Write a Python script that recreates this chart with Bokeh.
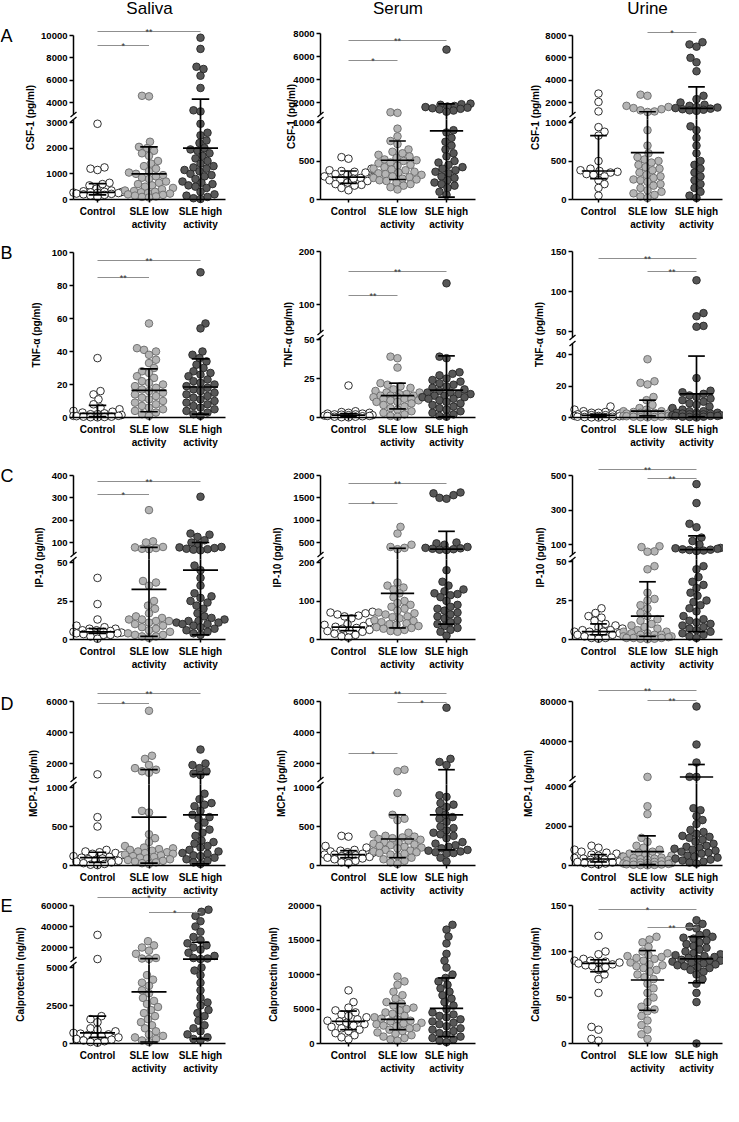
import math
from bokeh.plotting import figure
from bokeh.models import Range1d, LinearAxis, FixedTicker, NumeralTickFormatter, ColumnDataSource
from bokeh.core.properties import value
from bokeh.embed import file_html
from bokeh.resources import INLINE

# ---------------- data ----------------
groups = ["Control", "SLE low\nactivity", "SLE high\nactivity"]
fluids = ["Saliva", "Serum", "Urine"]
panel_letters = ["A", "B", "C", "D", "E"]
y_titles = ["CSF-1 (pg/ml)", "TNF-\u03b1 (pg/ml)", "IP-10 (pg/ml)", "MCP-1 (pg/ml)", "Calprotectin (ng/ml)"]

# --- CSF-1 ---
saliva_csf1_control = [2950, 1250, 1200, 1150, 650, 600, 550, 420, 350, 320, 300, 290, 280, 270, 260, 250, 230, 220, 200, 180, 150, 100]
saliva_csf1_low = [4600, 4550, 2250, 2050, 2000, 1900, 1800, 1700, 1500, 1400, 1300, 1200, 1100, 1050, 1000, 950, 900, 850, 800, 700, 650, 600, 550, 500, 450, 400, 350, 330, 300, 280, 250, 230, 200, 180, 150, 120, 100, 80]
saliva_csf1_high = [9800, 8800, 7200, 7000, 6400, 5300, 3300, 3200, 2950, 2600, 2500, 2300, 2200, 2000, 1950, 1900, 1800, 1700, 1600, 1500, 1400, 1300, 1250, 1200, 1150, 1100, 1000, 950, 900, 800, 700, 650, 600, 550, 500, 450, 300, 200, 150, 100, 50, 20]
saliva_csf1_mid = [280, 1000, 2000]
saliva_csf1_lo = [180, 0, 0]
saliva_csf1_hi = [620, 2050, 4300]
saliva_csf1_ticks = [0, 1000, 2000, 3000, 4000, 6000, 8000, 10000]
saliva_csf1_sig = [(0, 2, "**"), (0, 1, "*")]

serum_csf1_control = [550, 530, 400, 380, 370, 360, 350, 330, 320, 300, 290, 280, 270, 260, 250, 240, 220, 200, 190, 180, 150, 120]
serum_csf1_low = [1150, 1100, 920, 820, 760, 720, 650, 620, 600, 580, 560, 540, 520, 510, 500, 480, 470, 450, 440, 420, 400, 390, 380, 360, 350, 340, 330, 320, 300, 290, 280, 270, 260, 250, 240, 220, 200, 180, 160, 130]
serum_csf1_high = [6600, 1900, 1850, 1800, 1700, 1650, 1600, 1550, 1500, 1450, 1400, 1300, 1200, 900, 870, 800, 750, 700, 650, 600, 560, 500, 480, 450, 420, 400, 380, 360, 340, 300, 280, 250, 220, 200, 180, 150, 100, 60]
serum_csf1_mid = [290, 510, 890]
serum_csf1_lo = [210, 260, 30]
serum_csf1_hi = [370, 760, 1880]
serum_csf1_ticks = [0, 500, 1000, 2000, 4000, 6000, 8000]
serum_csf1_sig = [(0, 2, "**"), (0, 1, "*")]

urine_csf1_control = [2800, 2050, 1200, 940, 880, 830, 500, 400, 380, 370, 360, 350, 330, 320, 300, 250, 200, 150, 50]
urine_csf1_low = [2700, 2600, 1700, 1600, 1500, 1400, 1300, 1200, 1150, 900, 700, 600, 550, 520, 500, 480, 450, 420, 400, 380, 350, 320, 300, 280, 260, 250, 230, 200, 180, 150, 120, 100, 80, 60, 40, 20]
urine_csf1_high = [7400, 7200, 7000, 6000, 5600, 4800, 2600, 2300, 2000, 1800, 1700, 1600, 1550, 1500, 1450, 1400, 1350, 1300, 1250, 950, 900, 800, 700, 600, 500, 450, 400, 350, 300, 250, 200, 150, 100, 50, 20]
urine_csf1_mid = [370, 610, 1480]
urine_csf1_lo = [270, 0, 0]
urine_csf1_hi = [830, 1170, 3400]
urine_csf1_ticks = [0, 500, 1000, 2000, 4000, 6000, 8000]
urine_csf1_sig = [(1, 2, "*")]

# --- TNF-alpha ---
saliva_tnf_control = [36, 16, 14, 11, 8, 6, 5, 4, 3.5, 3, 2.5, 2, 2, 1.5, 1, 1, 0.8, 0.5, 0.5, 0.3, 0.2, 0.1]
saliva_tnf_low = [57, 42, 41, 40, 38, 35, 33, 30, 28, 27, 25, 24, 22, 21, 20, 19, 18, 17, 16, 15, 14, 13, 12, 11, 10, 9, 8, 7, 6, 5, 4, 3, 2, 1]
saliva_tnf_high = [88, 57, 54, 40, 38, 36, 34, 32, 30, 28, 27, 26, 25, 23, 22, 21, 20, 19, 18, 17, 16, 15, 14, 13, 12, 11, 10, 9, 8, 7, 6, 5, 4, 3, 2, 1]
saliva_tnf_mid = [2.5, 16.5, 18.5]
saliva_tnf_lo = [0.5, 3.5, 2]
saliva_tnf_hi = [7.3, 29.5, 35.5]
saliva_tnf_ticks = [0, 20, 40, 60, 80, 100]
saliva_tnf_sig = [(0, 2, "**"), (0, 1, "**")]

serum_tnf_control = [20.5, 4, 3.5, 3, 3, 2.5, 2.5, 2, 2, 1.8, 1.5, 1.5, 1.2, 1, 1, 0.8, 0.5, 0.5, 0.2, 0.1]
serum_tnf_low = [39, 38, 32, 22, 21, 20, 19, 18, 17, 16, 16, 15, 15, 14, 14, 14, 13, 13, 13, 12, 12, 12, 11, 11, 10, 10, 9, 8, 7, 6, 5, 4, 3, 2, 1, 0.5]
serum_tnf_high = [140, 39, 38, 29, 28, 27, 25, 24, 23, 22, 21, 20, 19, 18, 17, 16, 16, 15, 15, 14, 14, 13, 13, 12, 12, 11, 10, 9, 8, 7, 6, 5, 4, 3, 2, 1, 0.5]
serum_tnf_mid = [1.5, 14, 17.5]
serum_tnf_lo = [0.8, 5.5, 0.5]
serum_tnf_hi = [2.5, 22, 39.5]
serum_tnf_ticks = [0, 25, 50, 100, 200]
serum_tnf_sig = [(0, 2, "**"), (0, 1, "**")]

urine_tnf_control = [7, 5, 4, 3.5, 3, 3, 2.5, 2, 2, 2, 1.5, 1.5, 1, 1, 1, 0.8, 0.5, 0.5, 0.3, 0.2, 0.1, 0]
urine_tnf_low = [37, 23, 22, 21, 13, 11, 8, 6, 5, 5, 4, 4, 3.5, 3, 3, 3, 2.5, 2.5, 2, 2, 2, 1.5, 1.5, 1, 1, 1, 0.8, 0.5, 0.5, 0.3, 0.2, 0.1]
urine_tnf_high = [114, 73, 69, 57, 56, 25, 17, 16, 15, 14, 13, 12, 11, 10, 9, 8, 7, 6, 5, 4, 4, 3, 3, 3, 2.5, 2.5, 2, 2, 2, 1.5, 1.5, 1, 1, 1, 0.5, 0.5, 0.3, 0]
urine_tnf_mid = [1.3, 4, 15]
urine_tnf_lo = [0.8, 1, 0.5]
urine_tnf_hi = [2, 11, 39]
urine_tnf_ticks = [0, 20, 40, 50, 100, 150]
urine_tnf_sig = [(0, 2, "**"), (1, 2, "**")]

# --- IP-10 ---
saliva_ip10_control = [40, 23, 13, 9, 8, 7, 7, 6, 6, 5.5, 5, 5, 5, 4.5, 4, 4, 4, 3.5, 3, 3, 2, 0.5]
saliva_ip10_low = [245, 105, 100, 80, 78, 75, 72, 70, 38, 37, 35, 25, 22, 20, 17, 15, 14, 13, 13, 12, 12, 11, 10, 9, 8, 7, 6, 5, 4, 3, 3, 2, 2, 1]
saliva_ip10_high = [305, 140, 135, 125, 110, 100, 90, 80, 78, 75, 72, 70, 68, 65, 48, 45, 40, 35, 30, 28, 27, 25, 24, 22, 20, 17, 15, 14, 13, 12, 12, 11, 11, 10, 10, 9, 8, 7, 6, 5, 4, 3]
saliva_ip10_mid = [5, 32.5, 45]
saliva_ip10_lo = [4, 2, 3]
saliva_ip10_hi = [7, 78, 100]
saliva_ip10_ticks = [0, 25, 50, 100, 200, 300, 400]
saliva_ip10_sig = [(0, 2, "**"), (0, 1, "*")]

serum_ip10_control = [72, 70, 68, 65, 62, 60, 55, 45, 40, 38, 35, 33, 30, 28, 25, 23, 22, 20, 15, 12, 8, 5]
serum_ip10_low = [850, 700, 450, 400, 380, 350, 148, 140, 135, 130, 120, 110, 100, 95, 90, 85, 80, 75, 70, 68, 65, 60, 58, 55, 50, 48, 45, 42, 40, 38, 35, 32, 30, 28, 25, 22, 20]
serum_ip10_high = [1620, 1600, 1560, 1500, 1480, 500, 480, 450, 400, 380, 370, 360, 350, 340, 330, 180, 150, 140, 130, 125, 120, 118, 115, 110, 100, 90, 85, 80, 75, 70, 65, 60, 55, 50, 45, 40, 35, 30, 25, 20, 10]
serum_ip10_mid = [32, 120, 350]
serum_ip10_lo = [23, 30, 40]
serum_ip10_hi = [62, 370, 750]
serum_ip10_ticks = [0, 100, 200, 500, 1000, 1500, 2000]
serum_ip10_sig = [(0, 2, "**"), (0, 1, "*")]

urine_ip10_control = [20, 17, 15, 14, 12, 10, 9, 8, 7, 6, 6, 5, 5, 5, 4, 4, 3, 3, 2, 1, 1, 0.5]
urine_ip10_low = [90, 85, 60, 58, 47, 45, 30, 26, 25, 22, 20, 17, 15, 13, 12, 10, 9, 8, 7, 6, 5, 5, 4, 4, 3, 3, 3, 2, 2, 2, 1.5, 1, 1, 1, 0.5, 0.5, 0.2]
urine_ip10_high = [450, 340, 220, 200, 140, 120, 100, 80, 78, 75, 72, 70, 68, 65, 62, 47, 45, 40, 37, 35, 33, 30, 28, 25, 24, 22, 20, 18, 15, 13, 12, 11, 10, 9, 8, 7, 6, 5, 4, 3, 2, 1]
urine_ip10_mid = [5, 15, 70]
urine_ip10_lo = [3, 2, 5]
urine_ip10_hi = [10, 37, 150]
urine_ip10_ticks = [0, 25, 50, 100, 300, 500]
urine_ip10_sig = [(0, 2, "**"), (1, 2, "**")]

# --- MCP-1 ---
saliva_mcp1_control = [1300, 620, 500, 200, 180, 170, 160, 150, 130, 120, 110, 100, 90, 80, 70, 60, 50, 40, 30, 20, 10, 5]
saliva_mcp1_low = [5400, 2500, 2300, 1900, 1700, 1600, 1500, 1400, 700, 680, 400, 350, 300, 250, 230, 220, 210, 200, 190, 180, 170, 160, 150, 140, 130, 120, 110, 100, 90, 80, 70, 60, 50, 40, 30, 20]
saliva_mcp1_high = [2900, 2000, 1900, 1700, 1500, 1350, 1250, 920, 850, 800, 780, 760, 700, 650, 620, 600, 550, 500, 460, 420, 380, 320, 300, 280, 250, 230, 200, 180, 160, 150, 130, 120, 100, 80, 60, 40, 20]
saliva_mcp1_mid = [100, 620, 650]
saliva_mcp1_lo = [40, 30, 20]
saliva_mcp1_hi = [170, 1600, 1300]
saliva_mcp1_ticks = [0, 500, 1000, 2000, 4000, 6000]
saliva_mcp1_sig = [(0, 2, "**"), (0, 1, "*")]

serum_mcp1_control = [380, 370, 250, 230, 200, 190, 180, 170, 160, 150, 140, 140, 130, 120, 120, 110, 100, 90, 80, 60, 40, 30]
serum_mcp1_low = [1600, 1500, 930, 650, 600, 580, 420, 400, 380, 370, 360, 350, 340, 330, 320, 300, 290, 280, 270, 260, 250, 240, 230, 220, 200, 190, 180, 170, 160, 150, 140, 120, 100, 80, 60, 40, 20]
serum_mcp1_high = [5600, 2300, 2100, 1900, 900, 880, 800, 780, 750, 700, 650, 620, 600, 560, 500, 480, 450, 420, 400, 380, 350, 300, 280, 260, 240, 220, 200, 190, 180, 170, 160, 150, 100, 50]
serum_mcp1_mid = [140, 340, 650]
serum_mcp1_lo = [100, 100, 200]
serum_mcp1_hi = [190, 650, 1600]
serum_mcp1_ticks = [0, 500, 1000, 2000, 4000, 6000]
serum_mcp1_sig = [(0, 2, "**"), (1, 2, "*"), (0, 1, "*")]

urine_mcp1_control = [1000, 900, 800, 700, 650, 600, 550, 500, 450, 400, 380, 350, 300, 280, 250, 200, 180, 150, 120, 100, 80, 50]
urine_mcp1_low = [4600, 3000, 2600, 1400, 1200, 1000, 900, 800, 700, 650, 600, 550, 500, 450, 400, 380, 350, 320, 300, 280, 250, 220, 200, 180, 150, 130, 120, 100, 80, 60, 50, 40, 30, 20, 10]
urine_mcp1_high = [75000, 37000, 19000, 4700, 4600, 2900, 2800, 2500, 2300, 2100, 1800, 1700, 1600, 1500, 1450, 1400, 1300, 1200, 1100, 1000, 950, 900, 850, 800, 750, 700, 650, 600, 500, 450, 400, 350, 300, 250, 200, 150, 100]
urine_mcp1_mid = [330, 700, 4500]
urine_mcp1_lo = [180, 50, 0]
urine_mcp1_hi = [550, 1500, 17000]
urine_mcp1_ticks = [0, 2000, 4000, 40000, 80000]
urine_mcp1_sig = [(0, 2, "**"), (1, 2, "**")]

# --- Calprotectin ---
saliva_calpro_control = [32000, 9000, 1800, 1600, 1400, 1000, 900, 800, 700, 650, 600, 550, 500, 450, 400, 300, 250, 200, 150, 100, 50]
saliva_calpro_low = [26000, 22000, 20000, 17000, 14000, 10000, 9500, 9000, 4500, 4200, 4000, 3800, 3500, 3300, 3000, 2800, 2600, 2400, 2200, 2000, 1800, 1600, 1400, 1200, 1000, 800, 600, 500, 400, 300, 200, 100]
saliva_calpro_high = [56000, 54000, 50000, 45000, 40000, 35000, 30000, 27000, 24000, 22000, 20000, 18000, 15000, 12000, 10000, 9500, 9000, 5000, 4800, 4500, 4000, 3500, 3000, 2700, 2500, 2200, 2000, 1800, 1500, 1200, 1000, 800, 600, 400, 300, 200]
saliva_calpro_mid = [700, 3400, 9000]
saliva_calpro_lo = [400, 100, 300]
saliva_calpro_hi = [1800, 9500, 25000]
saliva_calpro_ticks = [0, 2500, 5000, 20000, 40000, 60000]
saliva_calpro_sig = [(0, 2, "*"), (1, 2, "*")]

serum_calpro_control = [7700, 6000, 5200, 4800, 4500, 4200, 4000, 3800, 3500, 3300, 3200, 3000, 2800, 2600, 2400, 2200, 2000, 1800, 1500, 1200, 900, 600]
serum_calpro_low = [9700, 9000, 8500, 7500, 7000, 6500, 6000, 5800, 5500, 5200, 5000, 4800, 4500, 4300, 4000, 3800, 3600, 3500, 3300, 3200, 3000, 2900, 2800, 2600, 2500, 2300, 2200, 2000, 1800, 1600, 1400, 1200, 1000, 800, 600, 400]
serum_calpro_high = [17200, 16500, 15500, 14500, 13000, 12000, 11000, 10000, 9500, 9000, 8500, 8000, 7500, 7000, 6500, 6000, 5500, 5000, 4500, 4200, 4000, 3800, 3500, 3200, 3000, 2800, 2500, 2200, 2000, 1800, 1500, 1300, 1000, 800, 600, 400, 200]
serum_calpro_mid = [3200, 3500, 5100]
serum_calpro_lo = [2000, 2000, 1000]
serum_calpro_hi = [4700, 5800, 9500]
serum_calpro_ticks = [0, 5000, 10000, 15000, 20000]
serum_calpro_sig = []

urine_calpro_control = [117, 100, 97, 92, 90, 90, 89, 88, 88, 87, 86, 85, 84, 83, 80, 75, 70, 55, 18, 15, 5, 3]
urine_calpro_low = [116, 113, 110, 105, 100, 98, 96, 95, 94, 93, 92, 90, 88, 86, 85, 84, 82, 80, 78, 75, 72, 70, 65, 60, 55, 50, 45, 40, 37, 35, 30, 25, 20, 15, 10, 5]
urine_calpro_high = [134, 130, 127, 125, 120, 118, 116, 115, 114, 112, 110, 108, 106, 104, 102, 100, 98, 97, 96, 95, 94, 93, 92, 91, 90, 90, 89, 88, 87, 86, 85, 84, 83, 82, 80, 78, 75, 70, 65, 55, 45, 0]
urine_calpro_mid = [87, 69, 92]
urine_calpro_lo = [78, 36, 66]
urine_calpro_hi = [91, 101, 116]
urine_calpro_ticks = [0, 50, 100, 150]
urine_calpro_sig = [(0, 2, "*"), (1, 2, "**")]

tissues = ["saliva", "serum", "urine"]
markers = ["csf1", "tnf", "ip10", "mcp1", "calpro"]

# ---------------- layout (pixels) ----------------
W, H = 723, 1075
COLS = [dict(axis=73, c0=97, sp=51.5, right=225),
        dict(axis=320, c0=348, sp=49.0, right=475),
        dict(axis=572, c0=598, sp=49.0, right=722)]
ROW_Y0 = [199, 417, 639, 865, 1043]
TITLE_Y = 8
LETTER_Y = [35, 252, 475, 703, 905]
YLAB_OFF = [[43, 29, 37], [37, 32, 33], [34, 43, 32], [40, 39, 44], [53, 47, 37]]
SEG = {
    (0, 0): dict(lower=(3000, 77), upper=((4000, 97), (10000, 164)), ltop=80, ustart=85),
    (0, 1): dict(lower=(1000, 77), upper=((2000, 97), (8000, 166)), ltop=80, ustart=85),
    (0, 2): dict(lower=(1000, 77), upper=((2000, 97), (8000, 164)), ltop=80, ustart=85),
    (1, 0): dict(lower=(100, 165), upper=None),
    (1, 1): dict(lower=(50, 78), upper=((100, 113), (200, 166)), ltop=80, ustart=85),
    (1, 2): dict(lower=(40, 63), upper=((50, 86), (150, 166)), ltop=74, ustart=80),
    (2, 0): dict(lower=(50, 77), upper=((100, 97), (400, 164)), ltop=80, ustart=85),
    (2, 1): dict(lower=(200, 77), upper=((500, 97), (2000, 164)), ltop=80, ustart=85),
    (2, 2): dict(lower=(50, 78), upper=((100, 95), (500, 164)), ltop=80, ustart=85),
    (3, 0): dict(lower=(1000, 78), upper=((2000, 102), (6000, 164)), ltop=81, ustart=86),
    (3, 1): dict(lower=(1000, 78), upper=((2000, 102), (6000, 164)), ltop=81, ustart=86),
    (3, 2): dict(lower=(4000, 79), upper=((40000, 124), (80000, 164)), ltop=82, ustart=87),
    (4, 0): dict(lower=(5000, 76), upper=((20000, 96), (60000, 138)), ltop=79, ustart=84),
    (4, 1): dict(lower=(20000, 138), upper=None),
    (4, 2): dict(lower=(150, 138), upper=None),
}
SIG_H = {
    (0, 0): [168, 154], (0, 1): [159, 139], (0, 2): [167],
    (1, 0): [157, 140], (1, 1): [146, 122], (1, 2): [159, 146],
    (2, 0): [158, 145], (2, 1): [156, 136], (2, 2): [170, 161],
    (3, 0): [172, 162], (3, 1): [172, 163, 112], (3, 2): [175, 165],
    (4, 0): [146, 131], (4, 1): [], (4, 2): [134, 116],
}
FILL = ["#ffffff", "#b4b4b4", "#575757"]
EDGE = ["#1a1a1a", "#6a6a6a", "#262626"]
FONT = "Liberation Sans"
DOT = 7.6


def disp(v, seg):
    vl, dl = seg["lower"]
    k0 = dl / vl
    up = seg.get("upper")
    if up is None:
        return v * k0
    if v <= seg["ltop"] / k0:
        return v * k0
    (t1, d1), (t2, d2) = up
    return d1 + (v - t1) * (d2 - d1) / (t2 - t1)


def swarm(vals, seg, dia=7.0, maxoff=24):
    ds = [disp(v, seg) for v in vals]
    order = sorted(range(len(vals)), key=lambda i: ds[i])
    placed = []
    offs = [0.0] * len(vals)
    for n, i in enumerate(order):
        y = ds[i]
        sgn = 1 if n % 2 == 0 else -1
        cands = [0]
        for k in range(1, maxoff + 1):
            cands += [sgn * k, -sgn * k]
        best, bestc, bestpen = None, 0, 1e9
        for c in cands:
            pen = 0.0
            for (px, py) in placed:
                dd = math.hypot(px - c, py - y)
                if dd < dia:
                    pen += dia - dd
            if pen == 0:
                best = c
                break
            if pen < bestpen:
                bestpen, bestc = pen, c
        if best is None:
            best = bestc
        offs[i] = best
        placed.append((best, y))
    return offs


p = figure(width=W, height=H, x_range=Range1d(0, W), y_range=Range1d(H, 0),
           x_axis_type=None, y_axis_type=None, toolbar_location=None,
           output_backend="svg", outline_line_color=None)
p.min_border_left = 0
p.min_border_right = 0
p.min_border_top = 0
p.min_border_bottom = 0
p.background_fill_color = "white"
p.border_fill_color = "white"

xr = {}
for c, C in enumerate(COLS):
    xr[f"x{c}"] = Range1d(start=(0 - C["c0"]) / C["sp"], end=(W - C["c0"]) / C["sp"])
yr = {}


def style_axis(ax, fs):
    ax.axis_line_width = 1.5
    ax.axis_line_color = "black"
    ax.major_tick_line_width = 1.5
    ax.major_tick_line_color = "black"
    ax.major_tick_out = 4
    ax.major_tick_in = 0
    ax.minor_tick_line_color = None
    ax.major_label_text_font = FONT
    ax.major_label_text_font_style = "bold"
    ax.major_label_text_font_size = fs
    ax.major_label_text_color = "black"
    ax.major_label_standoff = 2


G = globals()
jobs = []
for r, m in enumerate(markers):
    for c, t in enumerate(tissues):
        key = f"{t}_{m}"
        C = COLS[c]
        seg = SEG[(r, c)]
        y0 = ROW_Y0[r]
        vl, dl = seg["lower"]
        k0 = dl / vl
        lname = f"L{r}{c}"
        yr[lname] = Range1d(start=(y0 - H) / k0, end=y0 / k0)
        up = seg.get("upper")
        info = dict(r=r, c=c, key=key, lname=lname, k0=k0)
        if up:
            (t1, d1), (t2, d2) = up
            k1 = (d2 - d1) / (t2 - t1)
            uname = f"U{r}{c}"
            yr[uname] = Range1d(start=t1 + (y0 - H - d1) / k1, end=t1 + (y0 - d1) / k1)
            info.update(uname=uname, b=seg["ltop"] / k0,
                        join_v=t1 + (seg["ltop"] - d1) / k1,
                        ustart_v=t1 + (seg["ustart"] - d1) / k1)
        else:
            info.update(uname=None, b=float("inf"))
        jobs.append(info)

p.extra_x_ranges = xr
p.extra_y_ranges = yr

for info in jobs:
    r, c, key = info["r"], info["c"], info["key"]
    C = COLS[c]
    seg = SEG[(r, c)]
    y0 = ROW_Y0[r]
    xname = f"x{c}"
    lname, uname, b = info["lname"], info["uname"], info["b"]
    names = [lname] + ([uname] if uname else [])
    vals = [G[key + "_control"], G[key + "_low"], G[key + "_high"]]
    mid, elo, ehi = G[key + "_mid"], G[key + "_lo"], G[key + "_hi"]
    ticks = G[key + "_ticks"]
    sig = G[key + "_sig"]

    # points
    pts = {n: dict(x=[], v=[], f=[], e=[]) for n in names}
    for g, vs in enumerate(vals):
        offs = swarm(vs, seg)
        for v, o in zip(vs, offs):
            n = lname if v <= b else uname
            pts[n]["x"].append(g + o / C["sp"])
            pts[n]["v"].append(v)
            pts[n]["f"].append(FILL[g])
            pts[n]["e"].append(EDGE[g])
    for n in names:
        p.scatter(x="x", y="v", source=ColumnDataSource(pts[n]), size=DOT,
                  fill_color="f", line_color="e", line_width=0.9,
                  x_range_name=xname, y_range_name=n)

    # center line and error bars
    segs = {n: dict(xa=[], ya=[], xb=[], yb=[]) for n in names}

    def add(n, xa, ya, xb, yb):
        segs[n]["xa"].append(xa)
        segs[n]["ya"].append(ya)
        segs[n]["xb"].append(xb)
        segs[n]["yb"].append(yb)

    for g in range(3):
        lo_v = max(elo[g], 0)
        hi_v = ehi[g]
        if hi_v <= b:
            add(lname, g, lo_v, g, hi_v)
        elif lo_v > b:
            add(uname, g, lo_v, g, hi_v)
        else:
            add(lname, g, lo_v, g, b)
            add(uname, g, info["join_v"], g, hi_v)
        nm = lname if mid[g] <= b else uname
        add(nm, g - 0.34, mid[g], g + 0.34, mid[g])
        nh = lname if hi_v <= b else uname
        add(nh, g - 0.17, hi_v, g + 0.17, hi_v)
        if elo[g] > 0:
            nl = lname if lo_v <= b else uname
            add(nl, g - 0.17, lo_v, g + 0.17, lo_v)
    for n in names:
        if segs[n]["xa"]:
            p.segment(x0="xa", y0="ya", x1="xb", y1="yb", source=ColumnDataSource(segs[n]),
                      line_color="black", line_width=1.7,
                      x_range_name=xname, y_range_name=n)

    # x axis
    xa = LinearAxis(x_range_name=xname, fixed_location=y0,
                    ticker=FixedTicker(ticks=[0, 1, 2]),
                    major_label_overrides={i: gname for i, gname in enumerate(groups)},
                    bounds=((C["axis"] - C["c0"]) / C["sp"], (C["right"] - C["c0"]) / C["sp"]))
    style_axis(xa, "10px")
    xa.major_tick_out = 3
    xa.major_label_standoff = 3
    p.add_layout(xa, "below")

    # y axes
    ax_x = (C["axis"] - C["c0"]) / C["sp"]
    lt = [t for t in ticks if t <= b]
    ya = LinearAxis(x_range_name=xname, y_range_name=lname, fixed_location=ax_x,
                    ticker=FixedTicker(ticks=lt), formatter=NumeralTickFormatter(format="0"),
                    bounds=(0, b if uname else seg["lower"][0]))
    style_axis(ya, "9.5px")
    p.add_layout(ya, "left")
    if uname:
        ut = [t for t in ticks if t > b]
        yu = LinearAxis(x_range_name=xname, y_range_name=uname, fixed_location=ax_x,
                        ticker=FixedTicker(ticks=ut), formatter=NumeralTickFormatter(format="0"),
                        bounds=(info["ustart_v"], max(ut)))
        style_axis(yu, "9.5px")
        p.add_layout(yu, "left")
        bx0, bx1, by0, by1 = [], [], [], []
        for dd in (seg["ltop"], seg["ustart"]):
            bx0.append(C["axis"] - 3)
            bx1.append(C["axis"] + 3)
            by0.append(y0 - dd + 2.5)
            by1.append(y0 - dd - 2.5)
        p.segment(x0=bx0, y0=by0, x1=bx1, y1=by1, line_color="black", line_width=1.3)
        top_d = up_top = seg["upper"][1][1]
    else:
        top_d = seg["lower"][1]

    # y axis title
    p.text(x=[C["axis"] - YLAB_OFF[r][c]], y=[y0 - top_d / 2], text=[y_titles[r]],
           angle=math.pi / 2, text_align="center", text_baseline="middle",
           text_font=value(FONT), text_font_style="bold", text_font_size="10px",
           text_color="black")

    # significance bars
    if sig:
        sx0, sx1, sy, tx, ty, tt = [], [], [], [], [], []
        for (g1, g2, lab), hd in zip(sig, SIG_H[(r, c)]):
            yy = y0 - hd
            sx0.append(g1)
            sx1.append(g2)
            sy.append(yy)
            tx.append((g1 + g2) / 2)
            ty.append(yy + 0.5)
            tt.append(lab)
        p.segment(x0=sx0, y0=sy, x1=sx1, y1=sy, line_color="#8f8f8f", line_width=1.1,
                  x_range_name=xname)
        p.text(x=tx, y=ty, text=tt, text_align="center", text_baseline="alphabetic",
               text_font=value(FONT), text_font_size="9px", text_color="#333333",
               x_range_name=xname)

# column titles
p.text(x=[(C["axis"] + C["right"]) / 2 for C in COLS], y=[TITLE_Y] * 3, text=fluids,
       text_align="center", text_baseline="middle", text_font=value(FONT),
       text_font_size="17px", text_color="black")
# panel letters
p.text(x=[0] * 5, y=LETTER_Y, text=panel_letters, text_align="left", text_baseline="middle",
       text_font=value(FONT), text_font_size="18px", text_color="black")

open("out.html", "w").write(file_html(p, INLINE))
